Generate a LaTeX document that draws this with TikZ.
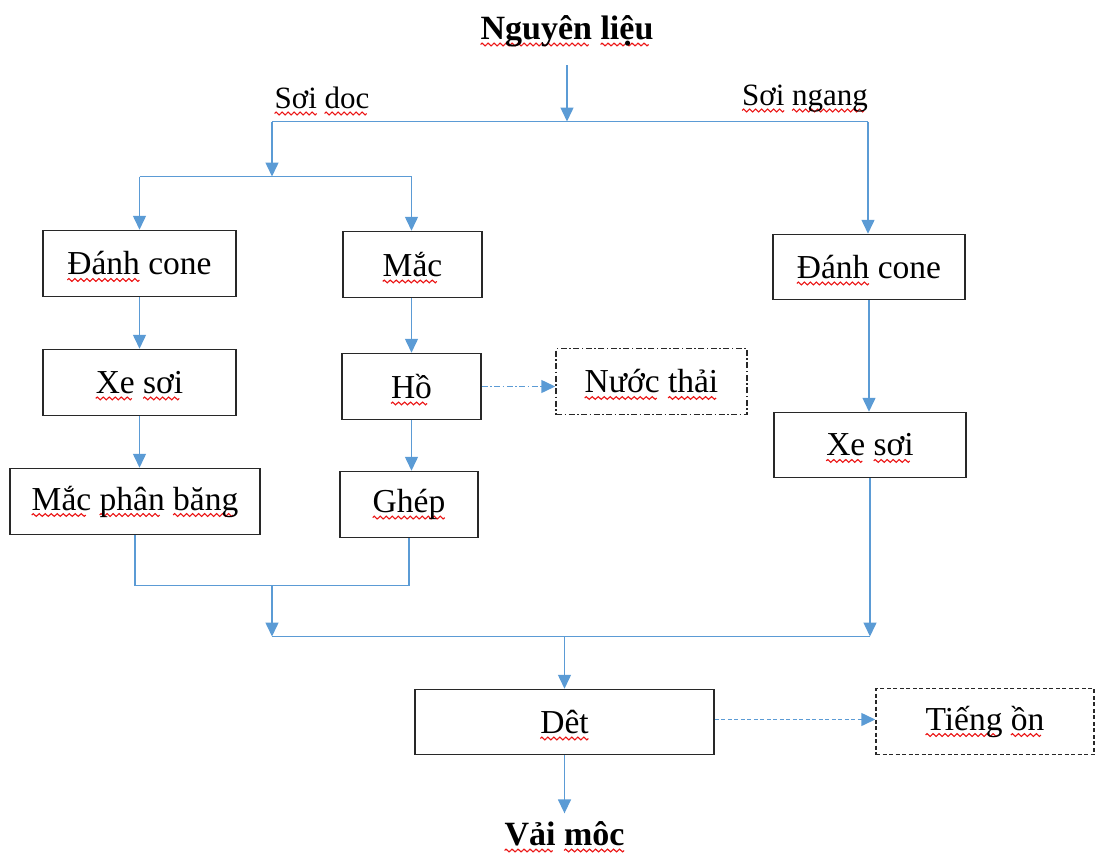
\documentclass[tikz,border=0pt]{standalone}
\usepackage{fontspec}
\setmainfont{Liberation Serif}
\usetikzlibrary{arrows.meta}

\definecolor{flow}{RGB}{91,155,213}
\definecolor{boxline}{RGB}{40,40,40}
\definecolor{wave}{RGB}{235,20,20}

% red wavy underline for words: one period of the wave, repeated with \leaders
\newsavebox\waveunit
\newsavebox\splbox
\newcommand\makewaveunit{%
  \sbox\waveunit{\tikz[x=1pt,y=1pt]{%
    \useasboundingbox (0,-1.5) rectangle (6,1.5);
    \draw[wave, line width=1.1pt] (0,0) sin (1.5,1.4) cos (3,0) sin (4.5,-1.4) cos (6,0);}}}
\newcommand\spl[1]{%
  \setbox\splbox\hbox{#1}%
  \leavevmode\rlap{\raisebox{-6.5pt}[0pt][0pt]{\leaders\copy\waveunit\hskip\wd\splbox}}%
  \box\splbox}

\tikzset{
  box/.style={draw=boxline, line width=1.5pt, minimum height=66pt, inner sep=0pt,
              font=\fontsize{33.5}{40}\selectfont},
  dashdotbox/.style={box, dash pattern=on 6pt off 2.5pt on 1.5pt off 2.5pt},
  dashbox/.style={box, dash pattern=on 4pt off 2.5pt},
  flowline/.style={draw=flow, line width=1.5pt},
  flowarr/.style={flowline, -{Triangle[width=13pt,length=14pt]}},
  sidetext/.style={font=\fontsize{31}{37}\selectfont, inner sep=0pt, anchor=base},
  headtext/.style={font=\bfseries\fontsize{34}{40}\selectfont, inner sep=0pt, anchor=base},
}

\begin{document}
\begin{tikzpicture}[x=1pt,y=-1pt]
\makewaveunit
\useasboundingbox (0,0) rectangle (1096,853);

% headings
\node[headtext] (nguyen) at (567,38) {\spl{Nguyên} \spl{liệu}};
\node[headtext] (vai) at (564.5,844) {\spl{Vải} \spl{môc}};
\node[sidetext] (soidoc) at (322,107) {\spl{Sơi} \spl{doc}};
\node[sidetext] (soingang) at (805,104) {\spl{Sơi} \spl{ngang}};

% warp yarn branch
\node[box, minimum width=193pt] (dcL) at (139.5,262) {\spl{Đánh} cone};
\node[box, minimum width=193pt] (xsL) at (139.5,381) {\spl{Xe} \spl{sơi}};
\node[box, minimum width=250pt] (mpb) at (135,500) {\spl{Mắc} \spl{phân} \spl{băng}};
\node[box, minimum width=139pt] (mac) at (412.5,263) {\spl{Mắc}};
\node[box, minimum width=139pt] (ho) at (411.5,385) {\spl{Hồ}};
\node[box, minimum width=138pt] (ghep) at (409,503) {\spl{Ghép}};
\node[dashdotbox, minimum width=191pt] (nuoc) at (651.5,380) {\spl{Nước} \spl{thải}};

% weft yarn branch
\node[box, minimum width=192pt, minimum height=65pt] (dcR) at (869,265.5) {\spl{Đánh} cone};
\node[box, minimum width=192pt, minimum height=65pt] (xsR) at (870,443.5) {\spl{Xe} \spl{sơi}};

% weaving
\node[box, minimum width=299pt, minimum height=65pt] (det) at (564.5,720.5) {\spl{Dêt}};
\node[dashbox, minimum width=218pt] (tieng) at (985,720) {\spl{Tiếng} \spl{ồn}};

% junction points
\coordinate (top) at (567,120);
\coordinate (splitL) at (272,120);
\coordinate (splitR) at (868,120);
\coordinate (brMid) at (272,175);
\coordinate (brL) at (139.5,175);
\coordinate (brR) at (411.5,175);
\coordinate (jm) at (272,584);
\coordinate (jb) at (272,635);
\coordinate (jbR) at (870,635);
\coordinate (jc) at (564.5,635);

% raw material split
\draw[flowarr, shorten <=18pt] (nguyen.south) -- (top);
\draw[flowline] (splitL) -- (splitR);
\draw[flowarr] (splitL) -- (brMid);
\draw[flowline] (brL) -- (brR);
\draw[flowarr] (brL) -- (brL |- dcL.north);
\draw[flowarr] (brR) -- (brR |- mac.north);
\draw[flowarr] (splitR) -- (splitR |- dcR.north);

% warp steps
\draw[flowarr] (dcL) -- (xsL);
\draw[flowarr] (xsL.south) -- (xsL.south |- mpb.north);
\draw[flowarr] (mac.south -| brR) -- (brR |- ho.north);
\draw[flowarr] (ho.south) -- (ho.south |- ghep.north);
\draw[flowarr, dash pattern=on 6pt off 2.5pt on 1.5pt off 2.5pt] (ho.east) -- (ho.east -| nuoc.west);

% weft steps
\draw[flowarr] (dcR.south) -- (dcR.south |- xsR.north);

% merge into weaving
\draw[flowline] (mpb.south) |- (jm) -| (ghep.south);
\draw[flowarr] (jm) -- (jb);
\draw[flowline] (jb) -- (jbR);
\draw[flowarr] (xsR.south) -- (jbR);
\draw[flowarr] (jc) -- (jc |- det.north);
\draw[flowarr, shorten >=8pt] (det.south) -- (det.south |- vai.north);
\draw[flowarr, dash pattern=on 4pt off 2.5pt] ([yshift=2.5pt]det.east) -- ([yshift=2.5pt]det.east -| tieng.west);
\end{tikzpicture}
\end{document}
